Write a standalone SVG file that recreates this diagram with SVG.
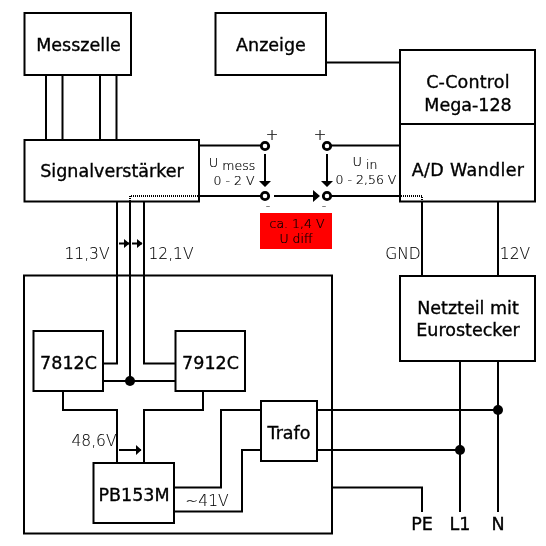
<svg xmlns="http://www.w3.org/2000/svg" width="546" height="546" viewBox="0 0 546 546">
<style>
.b{fill:#fff;stroke:#000;stroke-width:2}
.n{fill:none;stroke:#000;stroke-width:2}
.d{fill:none;stroke:#000;stroke-width:2;stroke-dasharray:1 1}
.o{filter:url(#g)}
.t{font-family:"DejaVu Sans",sans-serif;font-size:17.500px;fill:#000;stroke:#000;stroke-width:.35;text-anchor:middle}
.l{font-family:"DejaVu Sans",sans-serif;font-weight:200;font-size:15.500px;fill:#000;stroke:#000;stroke-width:.1;text-anchor:middle}
.s{font-family:"DejaVu Sans",sans-serif;font-weight:200;font-size:12.500px;fill:#000;stroke:#000;stroke-width:.2;text-anchor:middle}
.p{font-size:15px}
.c{fill:#fff;stroke:#000;stroke-width:2.800}
</style>
<defs><filter id="g" filterUnits="userSpaceOnUse" x="0" y="0" width="546" height="546" color-interpolation-filters="sRGB"><feOffset dx="0" dy="0"/></filter></defs>
<g id="frame"><rect class="n" x="24" y="275.500" width="308" height="258"/></g>
<g id="connectors">
<path class="n" d="M46 75V140M62.500 75V140M100 75V140M116.500 75V140"/>
<path class="n" d="M326 62.500H400"/>
<path class="n" d="M199 145.500H261M199 196H261M331 145.500H400M331 196H400"/>
<path class="n" d="M117 202V363.500H103M130 202V381M144 202V363.500H176M103 381H176"/>
<path class="n" d="M63 391V410H117V463M203 391V410H144V463"/>
<path class="n" d="M174 487.500H221V410H261M174 511.500H242V450H261"/>
<path class="n" d="M317 410H498M317 450H460"/>
<path class="n" d="M332 487.500H422V512M460 361V512M498 361V512"/>
<path class="n" d="M422 202V276M498 202V276"/>
<path class="n" d="M119 243.500H129M132 243.500H142"/>
<path class="n" d="M119 450H141"/>
<path class="n" d="M265 154V186M327 154V186"/>
<path class="n" d="M274 196H316"/>
<path fill="#000" d="M259 181H271L265 187ZM321 181H333L327 187ZM313 190L320 196L313 202ZM124 239L129.500 243.500L124 248ZM137 239L142.500 243.500L137 248ZM136 445L141.500 450L136 455Z"/>
<circle cx="130" cy="381" r="5"/><circle cx="498" cy="410" r="5"/><circle cx="460" cy="450" r="5"/>
</g>
<g id="terminals" class="o">
<circle class="c" cx="265" cy="146" r="3.700"/><circle class="c" cx="265" cy="196" r="3.700"/>
<circle class="c" cx="327" cy="146" r="3.700"/><circle class="c" cx="327" cy="196" r="3.700"/>
<text class="s p" x="272" y="140">+</text><text class="s p" x="320" y="140">+</text>
<text class="s" x="268" y="210">-</text><text class="s" x="324" y="210">-</text>
<text class="s" x="232" y="170"><tspan font-size="13" dy="-3">U</tspan><tspan dy="3"> mess</tspan></text>
<text class="s" x="234" y="185">0 - 2 V</text>
<text class="s" x="365" y="169"><tspan font-size="13" dy="-3">U</tspan><tspan dy="3"> in</tspan></text>
<text class="s" x="366" y="184">0 - 2,56 V</text>
</g>
<g id="diff" class="o"><rect x="260" y="213" width="72" height="36" fill="#f00"/>
<text class="s" x="297" y="228">ca. 1,4 V</text><text class="s" x="296" y="243">U diff</text></g>
<g id="messzelle" class="o"><rect class="b" x="24.500" y="13" width="106.500" height="62"/><text class="t" x="78.500" y="51">Messzelle</text></g>
<g id="anzeige" class="o"><rect class="b" x="215.500" y="13" width="110.500" height="62"/><text class="t" x="271" y="51">Anzeige</text></g>
<g id="signal" class="o"><rect class="b" x="24.500" y="140" width="174.500" height="61.500"/><text class="t" x="112" y="177">Signalverstärker</text></g>
<path class="d" d="M130 201V196H198"/>
<g id="ccontrol" class="o"><rect class="b" x="400" y="50" width="135" height="74"/><text class="t" x="468" y="88" letter-spacing=".2">C-Control</text><text class="t" x="468" y="111">Mega-128</text></g>
<g id="adw" class="o"><rect class="b" x="400" y="124" width="135" height="77.500"/><text class="t" x="468" y="175.500" letter-spacing=".35">A/D Wandler</text></g>
<path class="d" d="M401 196H422V201"/>
<g id="netzteil" class="o"><rect class="b" x="400" y="276" width="135" height="85"/><text class="t" x="468" y="313.500">Netzteil mit</text><text class="t" x="468" y="335.500">Eurostecker</text></g>
<g id="r7812" class="o"><rect class="b" x="33.500" y="331" width="69.500" height="60"/><text class="t" x="68.500" y="369">7812C</text></g>
<g id="r7912" class="o"><rect class="b" x="175.500" y="331" width="69.500" height="60"/><text class="t" x="210.500" y="369">7912C</text></g>
<g id="pb" class="o"><rect class="b" x="93.500" y="463" width="80.500" height="60"/><text class="t" x="134" y="501">PB153M</text></g>
<g id="trafo" class="o"><rect class="b" x="261" y="401" width="56" height="60"/><text class="t" x="289" y="439">Trafo</text></g>
<g id="labels" class="o">
<text class="l" x="87" y="259">11,3V</text><text class="l" x="171" y="259">12,1V</text>
<text class="l" x="94" y="446">48,6V</text><text class="l" x="207" y="506">~41V</text>
<text class="l" x="403" y="259">GND</text><text class="l" x="515" y="259">12V</text>
<text class="t" x="422" y="530">PE</text><text class="t" x="460" y="530">L1</text><text class="t" x="498" y="530">N</text>
</g>
</svg>
